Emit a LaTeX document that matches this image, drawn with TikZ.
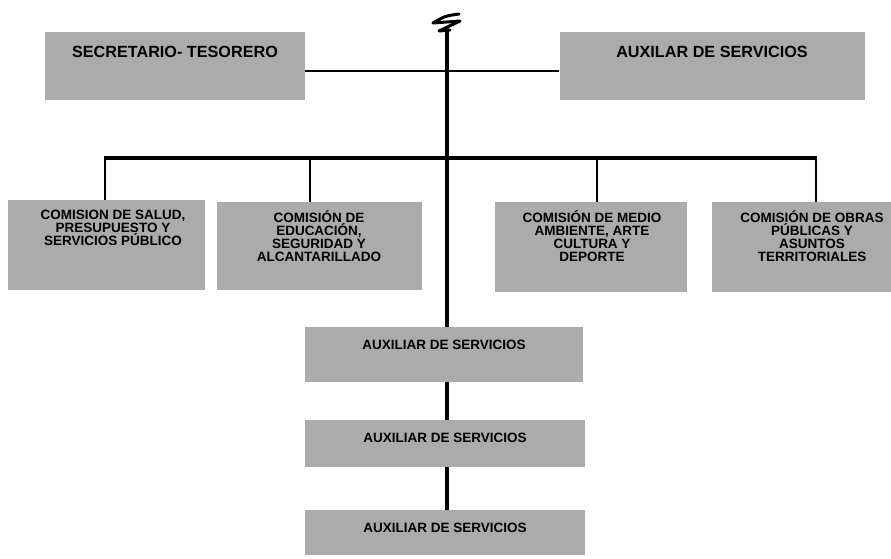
\documentclass[tikz,border=0pt]{standalone}
\usepackage{fontspec}
\setmainfont{Liberation Sans}
\usetikzlibrary{positioning}

\begin{document}
\begin{tikzpicture}[
x=1pt,y=-1pt,
box/.style={rectangle,
            fill=black!33,
            inner sep=0pt},
big text/.style={font=\fontsize{16.2}{16}\selectfont\bfseries, inner sep=0pt},
small text/.style={font=\fontsize{13.5}{13}\selectfont\bfseries, align=center, inner sep=0pt},
trunk/.style={line width=3.3pt},
bar/.style={line width=4pt},
thin/.style={line width=2pt},
drop/.style={line width=2.5pt}]
\useasboundingbox (0,0) rectangle (891,558);
%top
  \node[box, minimum width=260pt, minimum height=68pt] (st) at (175,66) {};
  \node[big text] (st-t) at (175,52) {SECRETARIO- TESORERO};
  \node[box, minimum width=305pt, minimum height=68pt] (as) at (712,66) {};
  \node[big text] (as-t) at (712,52) {AUXILAR DE SERVICIOS};
%comisiones
  \node[box, minimum width=197pt, minimum height=90pt] (c1) at (106.5,245) {};
  \node[small text] (c1-t) at (113,228) {COMISION DE SALUD,\\PRESUPUESTO Y\\SERVICIOS PÚBLICO};
  \node[box, minimum width=205pt, minimum height=88pt] (c2) at (319.5,246) {};
  \node[small text] (c2-t) at (319,236) {COMISIÓN DE\\EDUCACIÓN,\\SEGURIDAD Y\\ALCANTARILLADO};
  \node[box, minimum width=192pt, minimum height=90pt] (c3) at (591,247) {};
  \node[small text] (c3-t) at (592,236) {COMISIÓN DE MEDIO\\AMBIENTE, ARTE\\CULTURA Y\\DEPORTE};
  \node[box, minimum width=179pt, minimum height=90pt] (c4) at (801.5,247) {};
  \node[small text] (c4-t) at (812,236) {COMISIÓN DE OBRAS\\PÚBLICAS Y\\ASUNTOS\\TERRITORIALES};
%auxiliares
  \node[box, minimum width=278pt, minimum height=55pt] (a1) at (444,354.5) {};
  \node[small text] (a1-t) at (444,345) {AUXILIAR DE SERVICIOS};
  \node[box, minimum width=280pt, minimum height=47pt] (a2) at (445,443.5) {};
  \node[small text] (a2-t) at (445,438) {AUXILIAR DE SERVICIOS};
  \node[box, minimum width=280pt, minimum height=45pt] (a3) at (445,532.5) {};
  \node[small text] (a3-t) at (445,528) {AUXILIAR DE SERVICIOS};
%joints
  \coordinate (sq) at (447,31);
  \coordinate (j1) at (447,71);
  \coordinate (j2) at (447,158);
  \coordinate (d1) at (105,158);
  \coordinate (d2) at (310,158);
  \coordinate (d3) at (597,158);
  \coordinate (d4) at (816,158);
%squiggle
  \draw[line width=3pt, line join=round, line cap=round]
    (459,14) .. controls (445,16) .. (433,23) -- (460,21) -- (439,31) -- (450,30);
%paths
  \draw[thin] (st.east |- j1) -- (as.west |- j1);
  \draw[trunk] (sq) -- (j1) -- (j2) -- (j2 |- a1.north);
  \draw[trunk] (j2 |- a1.south) -- (j2 |- a2.north);
  \draw[trunk] (j2 |- a2.south) -- (j2 |- a3.north);
  \draw[bar] ([xshift=-1.25pt]d1) -- ([xshift=1.25pt]d4);
  \foreach \d/\c in {d1/c1, d2/c2, d3/c3, d4/c4}
    \draw[drop] (\d) -- (\d |- \c.north);
\end{tikzpicture}
\end{document}
